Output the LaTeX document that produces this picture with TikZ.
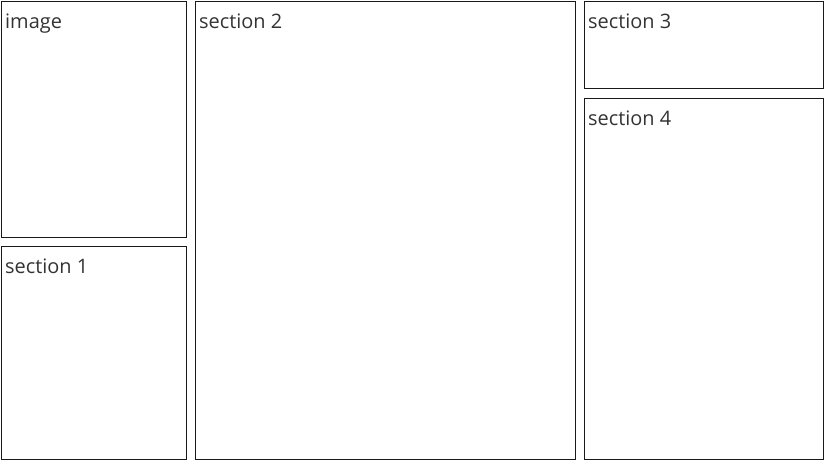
\documentclass[tikz,border=0pt]{standalone}
\usepackage{fontspec}
\setmainfont{Open Sans}
\usepackage{tikz}
\begin{document}
\begin{tikzpicture}[x=1bp, y=-1bp, box/.style = {draw=black!90, line width=1.1bp, anchor=north west, inner sep=0pt}, label/.style = {anchor=north west, inner sep=0pt, font=\fontsize{20}{22}\selectfont, text=black!80}]
    \useasboundingbox (0,0) rectangle (825,460);
    \node[box, minimum width=185bp, minimum height=236bp] (image) at (1,1) {};
    \node[box, minimum width=185bp, minimum height=213bp] (sec1) at (1,246) {};
    \node[box, minimum width=380bp, minimum height=458bp] (sec2) at (195,1) {};
    \node[box, minimum width=239bp, minimum height=87bp] (sec3) at (584,1) {};
    \node[box, minimum width=239bp, minimum height=361bp] (sec4) at (584,98) {};
    \node[label] at ([shift={(4,12.5)}]image.north west) {image};
    \node[label] at ([shift={(4,12.5)}]sec1.north west) {section 1};
    \node[label] at ([shift={(4,12.5)}]sec2.north west) {section 2};
    \node[label] at ([shift={(4,12.5)}]sec3.north west) {section 3};
    \node[label] at ([shift={(4,12.5)}]sec4.north west) {section 4};
\end{tikzpicture}
\end{document}
